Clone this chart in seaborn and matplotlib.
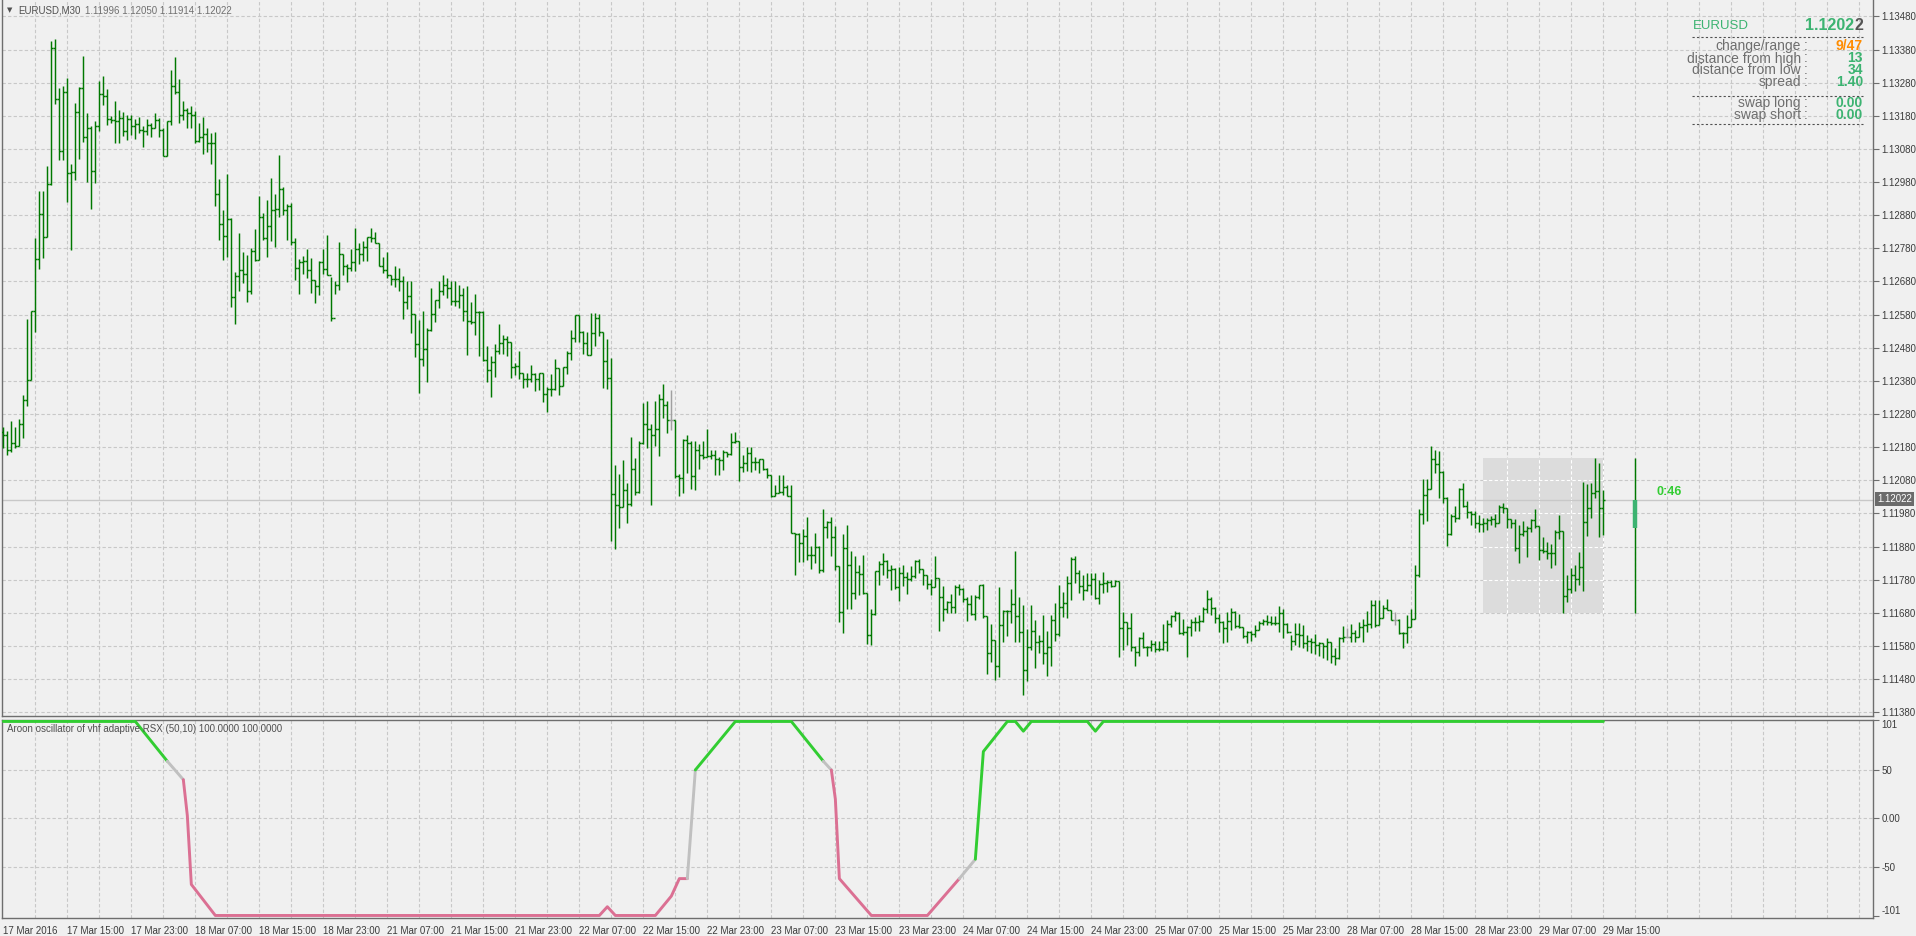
import numpy as np
import pandas as pd
import matplotlib
matplotlib.use("Agg")
import matplotlib.pyplot as plt
import seaborn as sns
from matplotlib.lines import Line2D
from matplotlib.patches import Rectangle

# EURUSD M30 bars, prices written as the digits after "1." (12240 -> 1.12240)
high = [
    12240, 12228, 12258, 12240, 12264, 12338, 12567, 12591, 12810, 12953,
    12953, 13029, 13406, 13413, 13265, 13271, 13295, 13034, 13218, 13268,
    13361, 13187, 13148, 13164, 13286, 13301, 13260, 13178, 13224, 13197,
    13190, 13182, 13182, 13169, 13175, 13149, 13169, 13158, 13187, 13172,
    13143, 13163, 13319, 13356, 13292, 13224, 13204, 13210, 13194, 13158,
    13176, 13142, 13127, 13131, 12989, 12897, 13004, 12872, 12708, 12825,
    12768, 12761, 12782, 12837, 12939, 12888, 12927, 12992, 12945, 13062,
    12966, 12915, 12918, 12812, 12747, 12758, 12777, 12750, 12683, 12743,
    12777, 12819, 12695, 12682, 12800, 12764, 12732, 12777, 12840, 12795,
    12803, 12815, 12840, 12828, 12797, 12753, 12768, 12700, 12726, 12720,
    12698, 12680, 12681, 12582, 12565, 12591, 12540, 12660, 12625, 12680,
    12700, 12690, 12680, 12680, 12670, 12660, 12667, 12617, 12643, 12592,
    12592, 12485, 12455, 12490, 12551, 12520, 12515, 12498, 12435, 12470,
    12405, 12403, 12427, 12405, 12403, 12405, 12362, 12400, 12447, 12420,
    12423, 12470, 12535, 12580, 12580, 12530, 12527, 12585, 12585, 12583,
    12527, 12505, 12448, 12125, 12100, 12142, 12073, 12210, 12148, 12200,
    12313, 12319, 12250, 12319, 12340, 12370, 12320, 12353, 12263, 12098,
    12205, 12217, 12200, 12200, 12190, 12200, 12235, 12170, 12172, 12150,
    12172, 12165, 12223, 12225, 12200, 12155, 12180, 12182, 12150, 12145,
    12145, 12117, 12097, 12067, 12095, 12097, 12067, 12065, 11920, 11920,
    11933, 11970, 11882, 11920, 11883, 11993, 11958, 11968, 11943, 11821,
    11918, 11945, 11867, 11853, 11825, 11855, 11740, 11693, 11807, 11838,
    11860, 11840, 11825, 11815, 11818, 11823, 11803, 11821, 11841, 11843,
    11813, 11795, 11783, 11853, 11785, 11762, 11715, 11738, 11763, 11768,
    11755, 11728, 11735, 11733, 11765, 11766, 11671, 11645, 11599, 11759,
    11690, 11690, 11753, 11867, 11728, 11705, 11630, 11703, 11657, 11613,
    11673, 11626, 11673, 11710, 11763, 11743, 11791, 11848, 11853, 11808,
    11795, 11801, 11800, 11800, 11778, 11803, 11778, 11780, 11778, 11776,
    11683, 11653, 11681, 11581, 11606, 11621, 11581, 11598, 11595, 11595,
    11646, 11658, 11673, 11685, 11683, 11661, 11641, 11663, 11668, 11673,
    11698, 11750, 11728, 11698, 11678, 11655, 11683, 11696, 11685, 11678,
    11638, 11625, 11625, 11643, 11655, 11661, 11673, 11670, 11671, 11701,
    11693, 11650, 11613, 11648, 11648, 11643, 11613, 11603, 11615, 11593,
    11590, 11603, 11592, 11575, 11608, 11641, 11633, 11645, 11628, 11653,
    11663, 11686, 11718, 11718, 11720, 11703, 11723, 11690, 11683, 11660,
    11623, 11675, 11693, 11823, 11993, 12085, 12083, 12185, 12171, 12168,
    12108, 12030, 11978, 12001, 12058, 12071, 12018, 11988, 11988, 11975,
    11965, 11965, 11971, 11978, 12007, 12011, 11995, 11963, 11963, 11945,
    11958, 11943, 11963, 11993, 11943, 11908, 11895, 11888, 11931, 11975,
    11926, 11795, 11815, 11823, 11863, 12075, 12068, 12073, 12148, 12133,
    12050,
]
low = [
    12178, 12157, 12166, 12178, 12184, 12208, 12303, 12383, 12528, 12718,
    12751, 12815, 12971, 13215, 13048, 13047, 12919, 12775, 12985, 13050,
    13102, 12979, 12898, 12976, 13135, 13213, 13153, 13158, 13099, 13099,
    13120, 13108, 13122, 13110, 13128, 13087, 13122, 13115, 13142, 13117,
    13058, 13058, 13153, 13247, 13158, 13168, 13144, 13144, 13099, 13100,
    13066, 13070, 13036, 12907, 12805, 12746, 12754, 12604, 12551, 12652,
    12676, 12617, 12643, 12742, 12746, 12804, 12754, 12803, 12784, 12874,
    12881, 12805, 12790, 12683, 12643, 12703, 12692, 12646, 12616, 12640,
    12703, 12700, 12560, 12641, 12655, 12701, 12677, 12713, 12713, 12734,
    12743, 12743, 12800, 12797, 12728, 12707, 12692, 12668, 12664, 12650,
    12568, 12596, 12524, 12452, 12342, 12425, 12378, 12530, 12557, 12600,
    12640, 12630, 12610, 12605, 12600, 12560, 12458, 12552, 12520, 12455,
    12440, 12378, 12330, 12392, 12460, 12460, 12455, 12390, 12398, 12385,
    12358, 12363, 12377, 12350, 12352, 12315, 12285, 12335, 12353, 12338,
    12365, 12400, 12443, 12498, 12496, 12462, 12459, 12459, 12485, 12515,
    12358, 12355, 11898, 11873, 11935, 11998, 11952, 12003, 12035, 12043,
    12190, 12177, 12007, 12185, 12152, 12267, 12223, 12233, 12087, 12033,
    12043, 12102, 12055, 12050, 12115, 12145, 12150, 12143, 12095, 12097,
    12110, 12150, 12157, 12193, 12078, 12105, 12107, 12105, 12110, 12103,
    12110, 12088, 12029, 12033, 12042, 12037, 12033, 11920, 11793, 11835,
    11835, 11840, 11812, 11830, 11800, 11803, 11905, 11851, 11808, 11653,
    11620, 11691, 11691, 11721, 11735, 11736, 11586, 11583, 11673, 11763,
    11795, 11785, 11750, 11751, 11715, 11760, 11738, 11775, 11785, 11800,
    11763, 11753, 11735, 11758, 11625, 11655, 11679, 11680, 11681, 11733,
    11713, 11655, 11675, 11658, 11723, 11665, 11495, 11531, 11478, 11485,
    11593, 11610, 11648, 11591, 11591, 11431, 11475, 11568, 11515, 11560,
    11527, 11490, 11520, 11596, 11611, 11668, 11666, 11720, 11771, 11741,
    11718, 11745, 11733, 11721, 11706, 11741, 11743, 11758, 11760, 11546,
    11568, 11583, 11566, 11519, 11550, 11573, 11550, 11566, 11563, 11566,
    11568, 11566, 11638, 11655, 11615, 11613, 11548, 11611, 11625, 11626,
    11653, 11681, 11673, 11648, 11623, 11588, 11593, 11628, 11633, 11633,
    11605, 11588, 11596, 11608, 11628, 11643, 11643, 11643, 11643, 11623,
    11605, 11620, 11568, 11583, 11578, 11573, 11565, 11560, 11555, 11550,
    11545, 11538, 11528, 11522, 11540, 11593, 11608, 11593, 11593, 11608,
    11593, 11623, 11633, 11638, 11643, 11665, 11688, 11658, 11643, 11615,
    11573, 11588, 11636, 11660, 11788, 11948, 11958, 12053, 12103, 12028,
    12011, 11881, 11915, 11955, 11963, 11998, 11965, 11945, 11935, 11923,
    11923, 11931, 11945, 11938, 11950, 11981, 11935, 11937, 11868, 11830,
    11913, 11848, 11925, 11935, 11840, 11861, 11843, 11815, 11823, 11903,
    11680, 11713, 11741, 11745, 11763, 11745, 11911, 11965, 12028, 11908,
    11914,
]
close = [
    12218, 12172, 12194, 12184, 12250, 12322, 12383, 12591, 12749, 12885,
    12815, 12974, 13385, 13232, 13073, 13253, 13008, 13009, 13192, 13265,
    13115, 13144, 13012, 13148, 13247, 13241, 13169, 13167, 13164, 13172,
    13133, 13170, 13148, 13155, 13136, 13133, 13152, 13142, 13167, 13137,
    13058, 13163, 13271, 13253, 13181, 13197, 13187, 13181, 13104, 13115,
    13124, 13097, 13099, 12944, 12854, 12818, 12869, 12632, 12698, 12716,
    12704, 12650, 12773, 12746, 12875, 12812, 12848, 12897, 12899, 12959,
    12895, 12908, 12800, 12722, 12740, 12741, 12716, 12683, 12665, 12739,
    12717, 12700, 12569, 12668, 12764, 12728, 12722, 12740, 12779, 12764,
    12783, 12813, 12810, 12797, 12728, 12716, 12700, 12686, 12687, 12680,
    12618, 12636, 12583, 12490, 12445, 12477, 12533, 12582, 12625, 12650,
    12670, 12660, 12620, 12621, 12640, 12592, 12560, 12557, 12588, 12589,
    12443, 12412, 12437, 12470, 12495, 12505, 12497, 12423, 12425, 12405,
    12385, 12386, 12400, 12387, 12403, 12339, 12357, 12355, 12419, 12365,
    12421, 12463, 12509, 12580, 12528, 12493, 12459, 12525, 12570, 12527,
    12440, 12390, 12038, 12005, 12000, 12052, 12008, 12115, 12045, 12192,
    12250, 12235, 12217, 12236, 12325, 12307, 12262, 12262, 12093, 12088,
    12203, 12193, 12093, 12172, 12155, 12150, 12153, 12157, 12145, 12142,
    12165, 12160, 12197, 12198, 12120, 12133, 12163, 12134, 12135, 12143,
    12115, 12095, 12033, 12043, 12044, 12060, 12033, 11920, 11917, 11890,
    11913, 11855, 11856, 11880, 11810, 11940, 11955, 11908, 11821, 11683,
    11875, 11825, 11741, 11803, 11798, 11740, 11613, 11678, 11806, 11827,
    11838, 11810, 11811, 11758, 11801, 11788, 11781, 11790, 11836, 11813,
    11793, 11768, 11758, 11785, 11728, 11691, 11713, 11698, 11758, 11753,
    11721, 11707, 11677, 11728, 11763, 11671, 11560, 11599, 11519, 11643,
    11686, 11685, 11707, 11671, 11621, 11509, 11578, 11626, 11593, 11594,
    11558, 11578, 11657, 11616, 11698, 11711, 11771, 11843, 11801, 11761,
    11748, 11763, 11783, 11725, 11766, 11770, 11773, 11761, 11775, 11635,
    11653, 11635, 11578, 11562, 11605, 11576, 11578, 11585, 11570, 11571,
    11593, 11646, 11671, 11681, 11620, 11621, 11638, 11651, 11653, 11655,
    11693, 11723, 11696, 11665, 11653, 11633, 11655, 11683, 11641, 11638,
    11611, 11623, 11615, 11628, 11648, 11655, 11653, 11648, 11649, 11681,
    11646, 11622, 11596, 11615, 11613, 11588, 11596, 11593, 11583, 11588,
    11580, 11591, 11550, 11545, 11603, 11608, 11608, 11618, 11608, 11638,
    11643, 11645, 11703, 11643, 11666, 11696, 11688, 11658, 11658, 11620,
    11618, 11638, 11660, 11793, 11978, 12035, 12053, 12143, 12130, 12105,
    12028, 11918, 11971, 11965, 12053, 12001, 11983, 11978, 11950, 11948,
    11951, 11961, 11963, 11951, 11998, 11996, 11963, 11951, 11876, 11918,
    11926, 11935, 11961, 11943, 11871, 11868, 11861, 11860, 11923, 11926,
    11731, 11753, 11793, 11783, 11818, 11953, 11995, 12041, 12048, 11996,
    12022,
]
first_open = 12225

x_labels = ["17 Mar 2016", "17 Mar 15:00", "17 Mar 23:00", "18 Mar 07:00", "18 Mar 15:00",
            "18 Mar 23:00", "21 Mar 07:00", "21 Mar 15:00", "21 Mar 23:00", "22 Mar 07:00",
            "22 Mar 15:00", "22 Mar 23:00", "23 Mar 07:00", "23 Mar 15:00", "23 Mar 23:00",
            "24 Mar 07:00", "24 Mar 15:00", "24 Mar 23:00", "25 Mar 07:00", "25 Mar 15:00",
            "25 Mar 23:00", "28 Mar 07:00", "28 Mar 15:00", "28 Mar 23:00", "29 Mar 07:00",
            "29 Mar 15:00"]

# aroon oscillator: vertices (bar, value) and colour state of each segment
aroon_bar = [0, 33, 41, 45, 46, 47, 53, 149, 151, 153, 163, 167, 169, 171, 173, 183, 197,
             205, 207, 208, 209, 217, 231, 239, 243, 245, 251, 253, 255, 257, 271, 273, 275, 400]
aroon_val = [100, 100, 59, 40, 3, -68, -100, -100, -91, -100, -100, -80, -62, -62, 50, 100, 100,
             59, 50, 20, -62, -100, -100, -62, -42, 69, 100, 100, 90, 100, 100, 90, 100, 100]
aroon_state = "ggnrrrrrrrrrrngggnrrrrrnggggggggg"
state_colors = {"g": "#32cd32", "n": "#c0c0c0", "r": "#db7093"}

bid = 1.12022
box_bars = [370, 400]
box_prices = [1.11680, 1.12148]
range_bar = 408
range_hl = [1.11680, 1.12148]
range_body = [1.11935, 1.12022]
timer_text = "0:46"

info_labels = ["change/range", "distance from high", "distance from low", "spread",
               "swap long", "swap short"]
info_values = ["9/47", "13", "34", "1.40", "0.00", "0.00"]
info_colors = ["#ff8c00", "#3cb371", "#3cb371", "#3cb371", "#3cb371", "#3cb371"]

BG = "#f0f0f0"
GRID = "#c8c8c8"
FRAME = "#6e6e6e"
TXT = "#3c3c3c"
BAR = "#007800"
DOJI = "#a0a0a0"

sns.set_style("white")
plt.rcParams["font.family"] = ["Liberation Sans", "DejaVu Sans"]

W, H = 1916, 936
fig = plt.figure(figsize=(W / 100, H / 100), dpi=100)
fig.patch.set_facecolor(BG)


def box(l, t, r, b):
    return [l / W, 1 - b / H, (r - l) / W, (b - t) / H]


def px(x, y):
    return x / W, 1 - y / H


ax = fig.add_axes(box(2, 0, 1873, 716))
ax2 = fig.add_axes(box(2, 720, 1873, 918))
xlim = (-0.33, 467.4)

for a in (ax, ax2):
    a.set_facecolor(BG)
    a.set_xlim(*xlim)
    for s in a.spines.values():
        s.set_color(FRAME)
        s.set_linewidth(1.0)
    a.yaxis.tick_right()
    a.tick_params(axis="both", direction="out", length=4, width=0.8, colors=FRAME,
                  labelcolor=TXT, labelsize=7, pad=2)
    for b in range(8, 468, 8):
        a.axvline(b, color=GRID, lw=0.8, ls=(0, (3, 2)), zorder=0.5)
ax.spines["top"].set_visible(False)

# ---- price pane ----
hi = np.array(high) / 1e5 + 1
lo = np.array(low) / 1e5 + 1
cl = np.array(close) / 1e5 + 1
op = np.concatenate([[first_open / 1e5 + 1], cl[:-1]])
bars = np.arange(len(hi))
cols = [DOJI if o == c else BAR for o, c in zip(np.round(op, 5), np.round(cl, 5))]

price_ticks = np.round(np.arange(1.1138, 1.13481, 0.001), 4)
ax.set_ylim(1.113688, 1.135294)
for p in price_ticks:
    ax.axhline(p, color=GRID, lw=0.8, ls=(0, (3, 2)), zorder=0.5)
ax.set_yticks(price_ticks)
ax.set_yticklabels([f"{p:.5f}" for p in price_ticks])
ax.set_xticks([])

ax.add_patch(Rectangle((box_bars[0], box_prices[0]), box_bars[1] - box_bars[0],
                       box_prices[1] - box_prices[0], facecolor="#dcdcdc", edgecolor="none", zorder=1))
for b in range(box_bars[0], box_bars[1] + 1):
    if b % 8 == 0:
        ax.vlines(b, box_prices[0], box_prices[1], color="white", lw=0.8, ls=(0, (3, 2)), zorder=1.2)
for p in price_ticks:
    if box_prices[0] < p < box_prices[1]:
        ax.hlines(p, box_bars[0], box_bars[1], color="white", lw=0.8, ls=(0, (3, 2)), zorder=1.2)

ax.axhline(bid, color="#c8c8c8", lw=1.0, zorder=2)

ax.vlines(bars, lo, hi, colors=cols, lw=1.05, zorder=3)
ax.hlines(op, bars - 0.5, bars, colors=cols, lw=1.05, zorder=3)
ax.hlines(cl, bars, bars + 0.5, colors=cols, lw=1.05, zorder=3)

ax.vlines(range_bar, range_hl[0], range_hl[1], color=BAR, lw=1.05, zorder=3)
ax.vlines(range_bar, range_body[0], range_body[1], color="#3cb371", lw=3.2, zorder=3.5)
ax.text(413.4, 1.12045, timer_text, color="#32cd32", fontsize=9, fontweight="bold",
        ha="left", va="center", zorder=4)

fig.text(*px(1877, 499), f"{bid:.5f}", color="white", fontsize=7, ha="left", va="center",
         bbox=dict(boxstyle="square,pad=0.18", fc="#6b6b6b", ec="none"))

# ---- aroon pane ----
ax2.set_ylim(-102.6, 101.5)
for v in (50, 0, -50):
    ax2.axhline(v, color=GRID, lw=0.8, ls=(0, (3, 2)), zorder=0.5)
ind_ticks = [-101, -50, 0, 50, 101]
ax2.set_yticks(ind_ticks)
ax2.set_yticklabels(["-101", "-50", "0.00", "50", "101"])
yt = ax2.yaxis.get_major_ticks()
yt[0].label2.set_va("bottom")
yt[-1].label2.set_va("top")
ax2.set_xticks(np.arange(0, 16 * len(x_labels), 16))
ax2.set_xticklabels(x_labels)
for t in ax2.get_xticklabels():
    t.set_ha("left")

start = 0
for k in range(1, len(aroon_state) + 1):
    if k == len(aroon_state) or aroon_state[k] != aroon_state[start]:
        seg = pd.DataFrame({"bar": aroon_bar[start:k + 1], "val": aroon_val[start:k + 1]})
        sns.lineplot(data=seg, x="bar", y="val", color=state_colors[aroon_state[start]],
                     lw=2.1, sort=False, estimator=None, ax=ax2, zorder=3)
        start = k
ax2.set_xlabel("")
ax2.set_ylabel("")
ax2.text(0.0025, 0.955, "Aroon oscillator of vhf adaptive RSX (50,10) 100.0000 100.0000",
         transform=ax2.transAxes, fontsize=7, color="#505050", ha="left", va="center")

# ---- header texts ----
fig.text(*px(10, 10.5), "\u25bc", fontsize=5, family=["DejaVu Sans"], color="#505050",
         ha="center", va="center")
fig.text(*px(18, 10.5), "EURUSD,M30", fontsize=7, color="#505050", ha="left", va="center")
fig.text(*px(85, 10.5), f"{op[-1]:.5f} {hi[-1]:.5f} {lo[-1]:.5f} {cl[-1]:.5f}",
         fontsize=7, color="#707070", ha="left", va="center")

# ---- info panel ----
fig.text(*px(1693, 26), "EURUSD", fontsize=9.5, color="#3cb371", ha="left", va="center")
bid_s = f"{bid:.5f}"
fig.text(*px(1863, 26), bid_s[-1], fontsize=11.5, fontweight="bold", color="#555555",
         ha="right", va="center")
fig.text(*px(1854, 26), bid_s[:-1], fontsize=11.5, fontweight="bold", color="#3cb371",
         ha="right", va="center")
for yy in (37, 96, 124):
    fig.add_artist(Line2D([1692 / W, 1863 / W], [1 - yy / H] * 2, color="#505050",
                          lw=0.8, ls=(0, (2, 2))))
row_y = [46, 58.5, 70.5, 82, 103, 115]
for lab, val, c, yy in zip(info_labels, info_values, info_colors, row_y):
    fig.text(*px(1801, yy), lab, fontsize=10, color="#6e6e6e", ha="right", va="center")
    fig.text(*px(1806, yy), ":", fontsize=10, color="#6e6e6e", ha="center", va="center")
    fig.text(*px(1863, yy), val, fontsize=10, color=c, fontweight="bold", ha="right", va="center")

fig.savefig("out.png", dpi=100, facecolor=BG)
